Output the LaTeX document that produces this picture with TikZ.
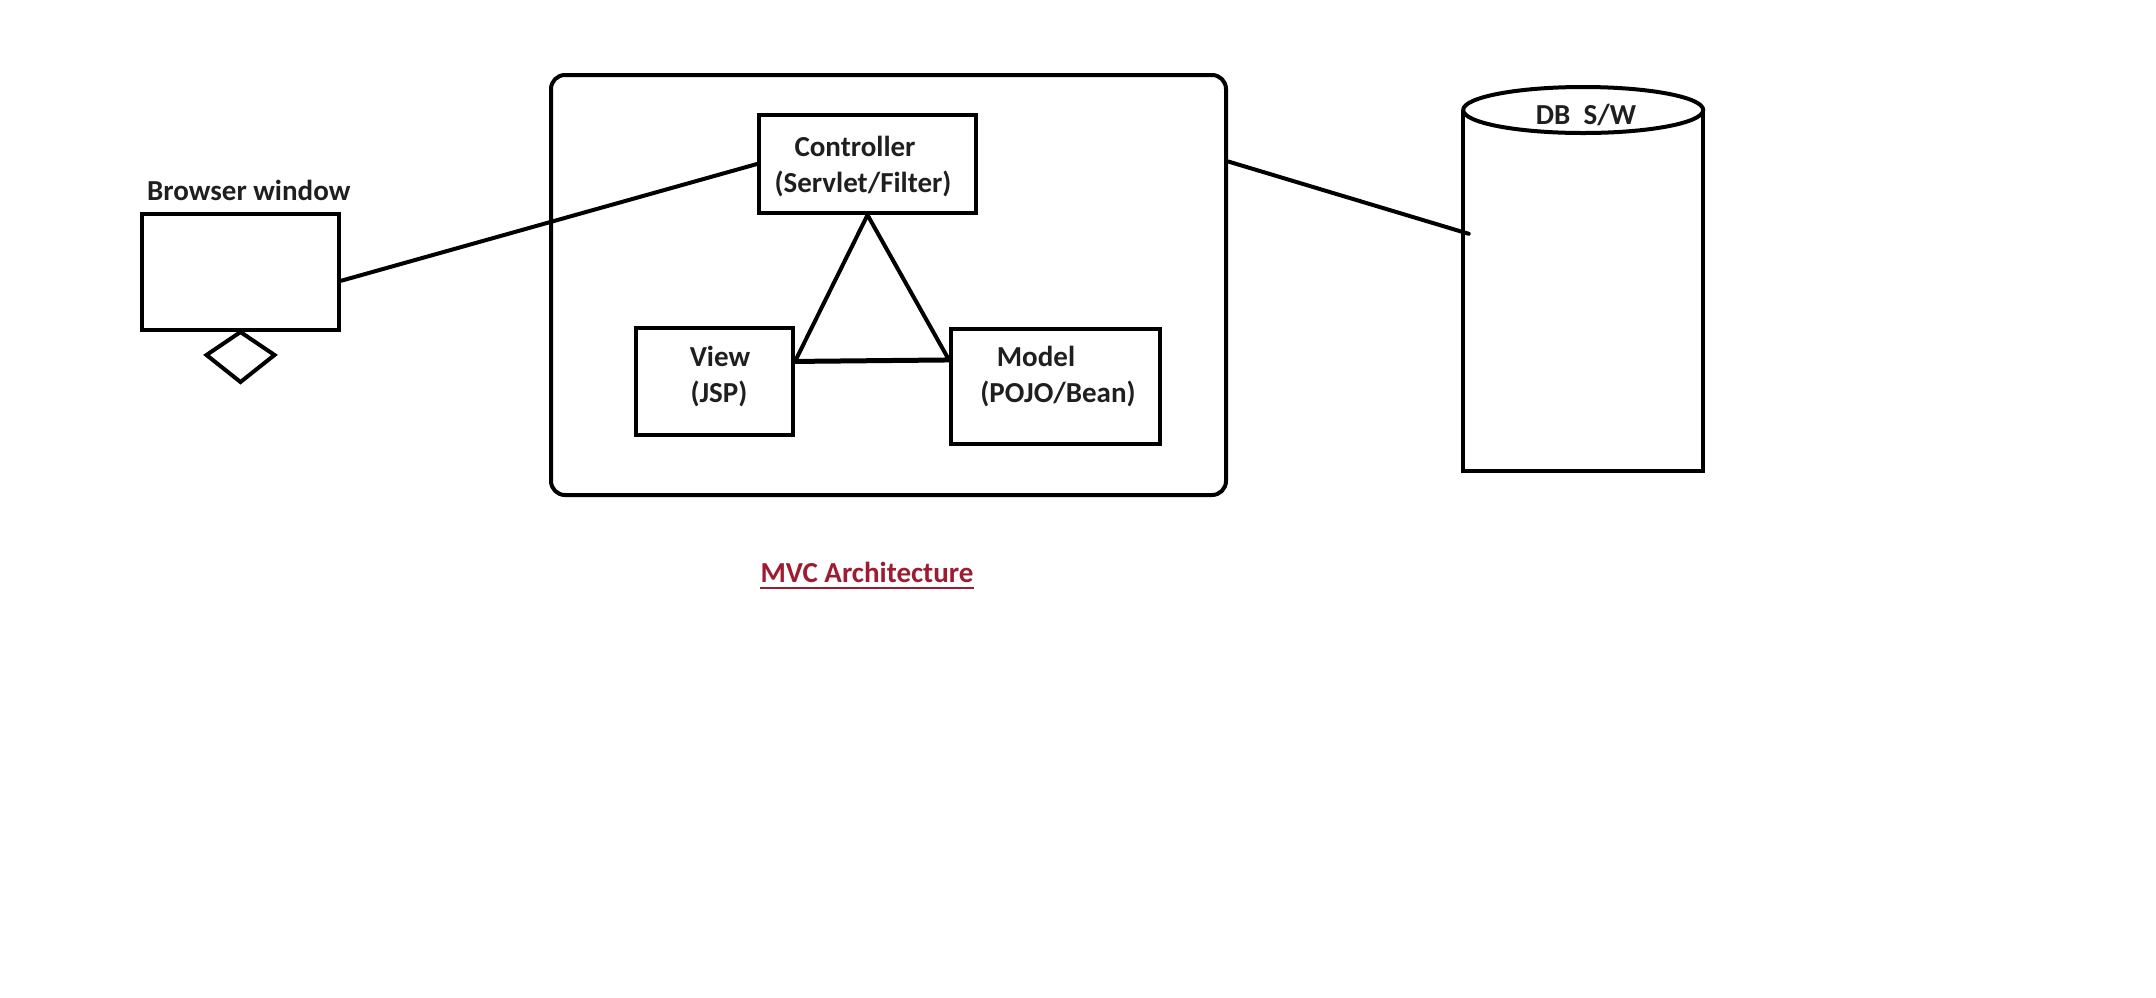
\documentclass[tikz,border=0pt]{standalone}
\usepackage{fontspec}
\setmainfont{Carlito}
\definecolor{mvcred}{RGB}{158,28,50}
\begin{document}
\begin{tikzpicture}[x=1pt,y=-1pt,
  lbl/.style={font=\fontsize{29pt}{35pt}\selectfont\bfseries, text=black!88, inner sep=0pt},
  boxed/.style={draw, line width=4pt, inner sep=0pt},
  link/.style={line width=4pt, line cap=round}]
\useasboundingbox (0,0) rectangle (2156,997);

% browser
\node[boxed, minimum width=197pt, minimum height=116pt, anchor=north west] (browser) at (140,212) {};
\node[lbl, anchor=base west] (browserlbl) at (147,200) {Browser window};
\draw[line width=4pt, line join=miter] (browser.south) -- ++(-34,23) -- ++(34,27) -- ++(34,-27) -- cycle;

% MVC container
\node[draw, line width=4pt, rounded corners=14pt, minimum width=675pt, minimum height=420pt, anchor=north west] (mvc) at (549,73) {};

\node[boxed, minimum width=217pt, minimum height=98pt, anchor=north west] (ctrl) at (757,113) {};
\node[lbl, anchor=base] (ctrlA) at (855,156) {Controller};
\node[lbl, anchor=base] (ctrlB) at (863,192) {(Servlet/Filter)};

\node[boxed, minimum width=157pt, minimum height=107pt, anchor=north west] (view) at (634,326) {};
\node[lbl, anchor=base] (viewA) at (720,366) {View};
\node[lbl, anchor=base] (viewB) at (719,402) {(JSP)};

\node[boxed, minimum width=209pt, minimum height=115pt, anchor=north west] (model) at (949,327) {};
\node[lbl, anchor=base] (modelA) at (1036,366) {Model};
\node[lbl, anchor=base] (modelB) at (1058,402) {(POJO/Bean)};

% database
\node[minimum width=240pt, minimum height=361pt, inner sep=0pt, anchor=north west] (db) at (1463,110) {};
\draw[line width=4pt] (db.north west) -- (db.south west) -- (db.south east) -- (db.north east);
\draw[line width=4pt] (db.north) ellipse [x radius=120pt, y radius=23pt];
\node[lbl, anchor=base] (dblbl) at (1586,124) {DB\ \ S/W};

% connectors
\draw[link] (browser.-5) -- (ctrl.west);
\draw[link] (ctrl.south) -- (view.14);
\draw[link] (ctrl.south) -- (model.166);
\draw[link, line width=5pt] (view.14) -- (model.166);
\draw[link, shorten >=-6pt] (mvc.20) -- (db.154);

% title
\node[lbl, text=mvcred, anchor=base] (title) at (867,582) {MVC Architecture};
\draw[mvcred, line width=2.5pt] ([yshift=-6pt]title.base west) -- ([yshift=-6pt]title.base east);
\end{tikzpicture}
\end{document}
